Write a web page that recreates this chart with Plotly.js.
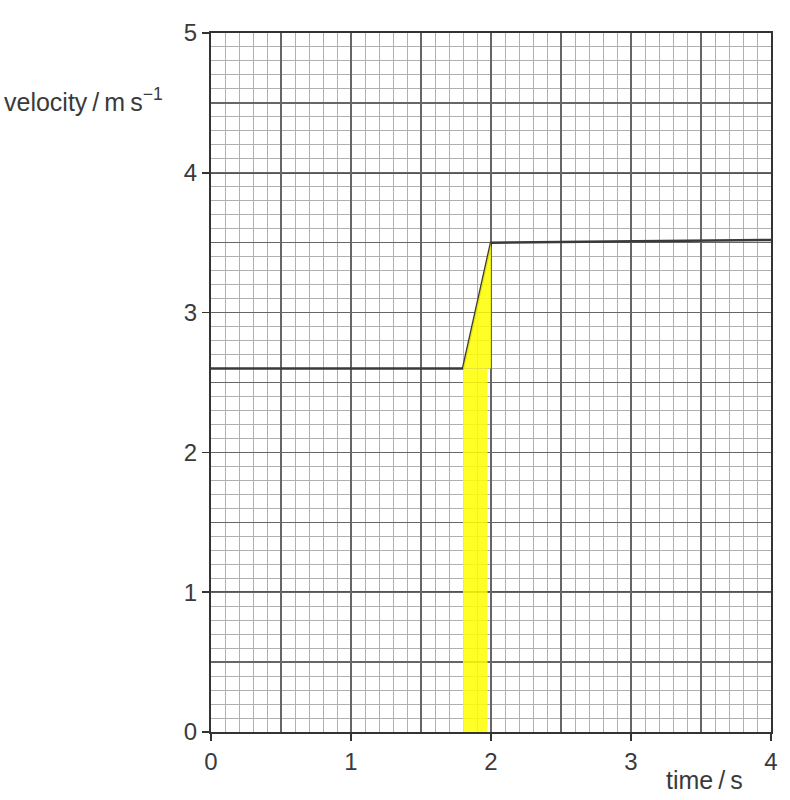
<!DOCTYPE html>
<html>
<head>
<meta charset="utf-8">
<script src="https://cdn.plot.ly/plotly-3.0.1.min.js"></script>
<style>html,body{margin:0;padding:0;background:#fff;}#chart{width:790px;height:800px;}</style>
</head>
<body>
<div id="chart"></div>
<script>
// velocity-time graph data
const lineTime = [0, 1.8, 2.0, 4.0];
const lineVelocity = [2.6, 2.6, 3.5, 3.52];
// shaded (yellow) area: strip under the curve plus the triangle of the ramp
const stripTime = [1.8, 1.975, 1.975, 1.8, 1.8];
const stripVelocity = [0, 0, 2.6, 2.6, 0];
const rampTime = [1.8, 2.0, 2.0, 1.8];
const rampVelocity = [2.6, 3.5, 2.6, 2.6];
const xTickVals = [0, 1, 2, 3, 4];
const xTickText = ['0', '1', '2', '3', '4'];
const yTickVals = [0, 1, 2, 3, 4, 5];
const yTickText = ['0', '1', '2', '3', '4', '5'];

const family = 'Liberation Sans, Arial, sans-serif';
const tickFont = {family: family, size: 24, color: '#3a3a3a'};

const traces = [
  {x: stripTime, y: stripVelocity, xaxis: 'x2', yaxis: 'y2', mode: 'lines', fill: 'toself',
   fillcolor: 'rgba(255,255,0,0.85)', line: {width: 0, color: 'rgba(0,0,0,0)'}, hoverinfo: 'skip', showlegend: false},
  {x: rampTime, y: rampVelocity, xaxis: 'x2', yaxis: 'y2', mode: 'lines', fill: 'toself',
   fillcolor: 'rgba(255,255,0,0.85)', line: {width: 0, color: 'rgba(0,0,0,0)'}, hoverinfo: 'skip', showlegend: false},
  {x: lineTime, y: lineVelocity, mode: 'lines', line: {color: '#3a3a3a', width: 2.5}, showlegend: false}
];

const layout = {
  width: 790, height: 800,
  margin: {l: 211, r: 19, t: 33, b: 68},
  paper_bgcolor: '#fff', plot_bgcolor: '#fff',
  font: tickFont,
  showlegend: false,
  xaxis: {
    range: [0, 4], tickvals: xTickVals, ticktext: xTickText,
    ticks: 'outside', ticklen: 7, tickwidth: 1.5, tickcolor: '#333',
    showline: true, linecolor: '#333', linewidth: 2, mirror: true,
    showgrid: true, gridcolor: '#555', gridwidth: 1.5, zeroline: false,
    minor: {dtick: 0.1, showgrid: true, gridcolor: '#b0b0b0', gridwidth: 1},
    tickfont: tickFont
  },
  yaxis: {
    range: [0, 5], tickvals: yTickVals, ticktext: yTickText,
    ticks: 'outside', ticklen: 7, tickwidth: 1.5, tickcolor: '#333',
    showline: true, linecolor: '#333', linewidth: 2, mirror: true,
    showgrid: true, gridcolor: '#555', gridwidth: 1.5, zeroline: false,
    minor: {dtick: 0.1, showgrid: true, gridcolor: '#b0b0b0', gridwidth: 1},
    tickfont: tickFont
  },
  xaxis2: {overlaying: 'x', matches: 'x', range: [0, 4], dtick: 0.5, tick0: 0,
    showgrid: true, gridcolor: '#666', gridwidth: 1.3, showticklabels: false, ticks: '', zeroline: false, showline: false},
  yaxis2: {overlaying: 'y', matches: 'y', range: [0, 5], dtick: 0.5, tick0: 0,
    showgrid: true, gridcolor: '#666', gridwidth: 1.3, showticklabels: false, ticks: '', zeroline: false, showline: false},
  annotations: [
    {text: 'velocity\u2009/\u2009m\u2009s<sup>−1</sup>', xref: 'paper', yref: 'paper', x: -0.082, y: 0.904,
     xanchor: 'right', yanchor: 'middle', showarrow: false, font: {family: family, size: 25, color: '#3a3a3a'}},
    {text: 'time\u2009/\u2009s', xref: 'paper', yref: 'paper', x: 0.954, y: -0.0687,
     xanchor: 'right', yanchor: 'middle', showarrow: false, font: {family: family, size: 25, color: '#3a3a3a'}}
  ]
};

Plotly.newPlot('chart', traces, layout, {staticPlot: true, displayModeBar: false});
</script>
</body>
</html>
